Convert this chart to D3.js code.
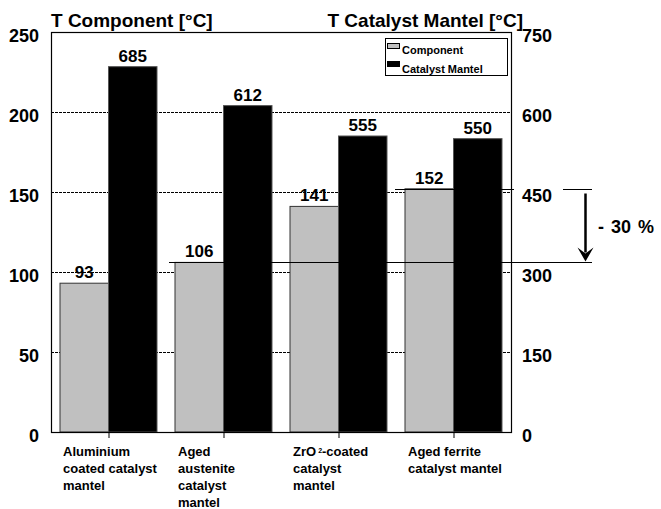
<!DOCTYPE html>
<html>
<head>
<meta charset="utf-8">
<script src="https://cdn.jsdelivr.net/npm/d3@7/dist/d3.min.js"></script>
<style>
  html, body { margin: 0; padding: 0; background: #fff; }
  svg { display: block; font-family: "Liberation Sans", Arial, sans-serif; font-weight: bold; }
</style>
</head>
<body>
<svg id="chart" width="661" height="509"></svg>
<script>
// Categories (multi-line labels) and the two measured temperature series
const categories = ["Aluminium coated catalyst mantel", "Aged austenite catalyst mantel", "ZrO2-coated catalyst mantel", "Aged ferrite catalyst mantel"];
const categoryLines = [
  ["Aluminium", "coated catalyst", "mantel"],
  ["Aged", "austenite", "catalyst", "mantel"],
  ["ZrO2-coated", "catalyst", "mantel"],
  ["Aged ferrite", "catalyst mantel"]
];
const seriesNames = ["Component", "Catalyst Mantel"];
const componentTemps = [93, 106, 141, 152];      // left axis, °C
const mantelTemps = [685, 612, 555, 550];        // right axis, °C
const leftTicks = [0, 50, 100, 150, 200, 250];
const rightTicks = [0, 150, 300, 450, 600, 750];
const gridValues = [50, 100, 150, 200];
const reductionLabel = "- 30 %";

const svg = d3.select("#chart");
const plotLeft = 51, plotRight = 511, plotTop = 32, plotBottom = 432;

const x = d3.scaleBand().domain(categories).range([plotLeft, plotRight]).paddingInner(0).paddingOuter(0);
const xs = d3.scaleBand().domain(seriesNames).range([0, x.bandwidth()]).paddingInner(0).paddingOuter(0.1856);
const yL = d3.scaleLinear().domain([0, 250]).range([plotBottom, plotTop]);
const yR = d3.scaleLinear().domain([0, 750]).range([plotBottom, plotTop]);

const fills = { "Component": "#c0c0c0", "Catalyst Mantel": "#000" };
const strokes = { "Component": "#333", "Catalyst Mantel": "#555" };

// plot background
svg.append("rect").attr("x", plotLeft).attr("y", plotTop).attr("width", plotRight - plotLeft).attr("height", plotBottom - plotTop).attr("fill", "#fff");

// dashed gridlines
svg.append("g").selectAll("line").data(gridValues).join("line")
  .attr("x1", plotLeft).attr("x2", plotRight)
  .attr("y1", d => Math.round(yL(d)) + 0.5).attr("y2", d => Math.round(yL(d)) + 0.5)
  .attr("stroke", "#000").attr("stroke-width", 1).attr("stroke-dasharray", "3,1");

// bars
const rows = categories.map((c, i) => ({ cat: c, i, comp: componentTemps[i], mant: mantelTemps[i] }));
const g = svg.append("g");
rows.forEach(r => {
  g.append("rect")
    .attr("x", x(r.cat) + xs("Component")).attr("width", xs.bandwidth())
    .attr("y", yL(r.comp)).attr("height", plotBottom - yL(r.comp))
    .attr("fill", fills["Component"]).attr("stroke", strokes["Component"]).attr("stroke-width", 1);
  g.append("rect")
    .attr("x", x(r.cat) + xs("Catalyst Mantel")).attr("width", xs.bandwidth())
    .attr("y", yR(r.mant)).attr("height", plotBottom - yR(r.mant))
    .attr("fill", fills["Catalyst Mantel"]).attr("stroke", strokes["Catalyst Mantel"]).attr("stroke-width", 1);
  g.append("text")
    .attr("x", x(r.cat) + xs("Component") + xs.bandwidth() / 2).attr("y", yL(r.comp) - 5)
    .attr("text-anchor", "middle").attr("font-size", 17).text(r.comp);
  g.append("text")
    .attr("x", x(r.cat) + xs("Catalyst Mantel") + xs.bandwidth() / 2).attr("y", yR(r.mant) - 5)
    .attr("text-anchor", "middle").attr("font-size", 17).text(r.mant);
});

// frame
svg.append("rect").attr("x", plotLeft + 0.5).attr("y", plotTop + 0.5).attr("width", plotRight - plotLeft).attr("height", plotBottom - plotTop)
  .attr("fill", "none").attr("stroke", "#000").attr("stroke-width", 1.2);

// left axis labels
svg.append("g").selectAll("text").data(leftTicks).join("text")
  .attr("x", 39).attr("y", d => yL(d) + 10).attr("text-anchor", "end").attr("font-size", 18).text(d => d);
// right axis labels
svg.append("g").selectAll("text").data(rightTicks).join("text")
  .attr("x", 522).attr("y", d => yR(d) + 10).attr("text-anchor", "start").attr("font-size", 18).text(d => d);

// category ticks
svg.append("g").selectAll("line").data(categories).join("line")
  .attr("x1", d => x(d) + x.bandwidth() / 2 + 0.5).attr("x2", d => x(d) + x.bandwidth() / 2 + 0.5)
  .attr("y1", plotBottom).attr("y2", plotBottom + 6).attr("stroke", "#000").attr("stroke-width", 1);

// category labels
categories.forEach((c, i) => {
  const t = svg.append("text").attr("x", x(c) + 12).attr("y", 456).attr("font-size", 13);
  categoryLines[i].forEach((line, j) => {
    const ts = t.append("tspan").attr("x", x(c) + 12).attr("y", 456 + j * 17);
    if (line.startsWith("ZrO2")) {
      ts.append("tspan").text("ZrO");
      ts.append("tspan").attr("font-size", 7).attr("dx", 2).attr("dy", -3).text("2");
      ts.append("tspan").attr("dy", 3).text(line.slice(4));
    } else {
      ts.text(line);
    }
  });
});

// axis titles
svg.append("text").attr("x", 51).attr("y", 27).attr("font-size", 19).text("T Component [°C]");
svg.append("text").attr("x", 523).attr("y", 27).attr("text-anchor", "end").attr("font-size", 19).text("T Catalyst Mantel [°C]");

// legend
const lg = svg.append("g");
lg.append("rect").attr("x", 385.5).attr("y", 38.5).attr("width", 122).attr("height", 37)
  .attr("fill", "#fff").attr("stroke", "#000").attr("stroke-width", 1);
seriesNames.forEach((s, i) => {
  lg.append("rect").attr("x", 387.5).attr("y", 43.5 + i * 18).attr("width", 12).attr("height", 5)
    .attr("fill", fills[s]).attr("stroke", "#000").attr("stroke-width", 1);
  lg.append("text").attr("x", 402).attr("y", 54 + i * 19).attr("font-size", 11).text(s);
});

// reduction markers: reference lines at the aged austenite and aged ferrite component levels
const yHigh = Math.round(yL(componentTemps[3])) + 0.5;
const yLow = Math.round(yL(componentTemps[1])) + 0.5;
svg.append("line").attr("x1", 395).attr("x2", 514).attr("y1", yHigh).attr("y2", yHigh).attr("stroke", "#000");
svg.append("line").attr("x1", 563).attr("x2", 592).attr("y1", yHigh).attr("y2", yHigh).attr("stroke", "#000");
svg.append("line").attr("x1", 169).attr("x2", 592).attr("y1", yLow).attr("y2", yLow).attr("stroke", "#000");

// arrow
const ax = 585.5;
svg.append("line").attr("x1", ax).attr("x2", ax).attr("y1", yHigh + 4).attr("y2", yLow - 10)
  .attr("stroke", "#000").attr("stroke-width", 2.5);
svg.append("path")
  .attr("d", `M${ax - 8},${yLow - 15} L${ax},${yLow - 1} L${ax + 8},${yLow - 15} L${ax},${yLow - 9} Z`)
  .attr("fill", "#000");

svg.append("text").attr("x", 598).attr("y", 233).attr("font-size", 18).attr("word-spacing", 2).text(reductionLabel);
</script>
</body>
</html>
